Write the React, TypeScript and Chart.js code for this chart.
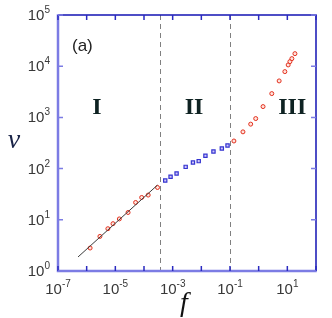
import React, { useEffect, useRef } from 'react';
import { Chart, registerables } from 'chart.js';

Chart.register(...registerables);

// Region I (red circles)
const regionIF = [1.32e-6, 2.9e-6, 5.5e-6, 8.3e-6, 1.38e-5, 2.78e-5, 5.1e-5, 8.3e-5, 1.4e-4, 2.96e-4];
const regionIV = [2.81, 4.74, 6.7, 8.4, 10.4, 13.9, 21.8, 27.3, 30.4, 42.8];
// Region II (blue squares)
const regionIIF = [5.5e-4, 8.45e-4, 1.37e-3, 2.84e-3, 5.1e-3, 8.1e-3, 1.39e-2, 2.65e-2, 5.19e-2, 8.2e-2];
const regionIIV = [58.6, 69.2, 80.3, 108, 131.6, 140, 178, 216, 247, 282];
// Region III (red circles)
const regionIIIF = [0.137, 0.283, 0.527, 0.789, 1.42, 2.87, 5.18, 8.2, 10.7, 12.3, 14.4, 18.4];
const regionIIIV = [346, 522, 738, 949, 1626, 2917, 5160, 7840, 10590, 12280, 14050, 17590];
// Power-law fit line in region I
const fitF = [5.0e-7, 2.96e-4];
const fitV = [1.88, 47.7];
// Region boundaries (dashed lines)
const boundaryF = [3.6e-4, 0.1];
// Region labels
const regionNames = ['I', 'II', 'III'];
const regionNameF = [2.3e-6, 5.6e-3, 14.8];
const regionNameV = [1607, 1607, 1607];
// Ticks
const xMin = 1e-7;
const xMax = 1e2;
const yMin = 1;
const yMax = 1e5;
const xTickMarkExps = [-7, -6, -5, -4, -3, -2, -1, 0, 1, 2];
const xTickLabelExps = [-7, -5, -3, -1, 1];
const yTickExps = [0, 1, 2, 3, 4, 5];
const panelLabel = '(a)';
const xTitle = 'f';
const yTitle = 'v';

const toPts = (xs: number[], ys: number[]) => xs.map((x, i) => ({ x, y: ys[i] }));

const TICK_FONT = '15px "Liberation Sans", Arial, sans-serif';
const SUP_FONT = '10px "Liberation Sans", Arial, sans-serif';

function drawPow(ctx: CanvasRenderingContext2D, exp: number, x: number, y: number, align: 'right' | 'center', supDy: number) {
  ctx.font = TICK_FONT;
  const wb = ctx.measureText('10').width;
  ctx.font = SUP_FONT;
  const es = String(exp);
  const we = ctx.measureText(es).width;
  const total = wb + we;
  const start = align === 'right' ? x - total : x - total / 2;
  ctx.textAlign = 'left';
  ctx.textBaseline = 'alphabetic';
  ctx.font = TICK_FONT;
  ctx.fillText('10', start, y);
  ctx.font = SUP_FONT;
  ctx.fillText(es, start + wb, y + supDy);
}

const overlay = {
  id: 'overlay',
  beforeDatasetsDraw(chart: any) {
    const { ctx, chartArea: a, scales } = chart;
    const x = scales.x;
    ctx.save();
    ctx.strokeStyle = '#808080';
    ctx.lineWidth = 1;
    ctx.setLineDash([5, 4]);
    boundaryF.forEach((f) => {
      const px = Math.round(x.getPixelForValue(f)) + 0.5;
      ctx.beginPath();
      ctx.moveTo(px, a.top);
      ctx.lineTo(px, a.bottom);
      ctx.stroke();
    });
    ctx.restore();
  },
  afterDraw(chart: any) {
    const { ctx, chartArea: a, scales } = chart;
    const x = scales.x;
    const y = scales.y;
    ctx.save();
    ctx.lineCap = 'butt';
    ctx.strokeStyle = '#1414b4';
    ctx.lineWidth = 1.5;
    ctx.beginPath();
    ctx.moveTo(a.left, a.top);
    ctx.lineTo(a.right, a.top);
    ctx.lineTo(a.right, a.bottom);
    ctx.stroke();
    ctx.strokeStyle = '#7c7ce4';
    ctx.lineWidth = 2.5;
    ctx.beginPath();
    ctx.moveTo(a.left, a.top - 0.75);
    ctx.lineTo(a.left, a.bottom);
    ctx.lineTo(a.right + 0.75, a.bottom);
    ctx.stroke();
    const tl = 5;
    ctx.lineWidth = 1.5;
    xTickMarkExps.forEach((e) => {
      const px = x.getPixelForValue(Math.pow(10, e));
      ctx.strokeStyle = '#2a2ac0';
      ctx.beginPath();
      ctx.moveTo(px, a.bottom);
      ctx.lineTo(px, a.bottom - tl);
      ctx.moveTo(px, a.top);
      ctx.lineTo(px, a.top + tl);
      ctx.stroke();
    });
    yTickExps.forEach((e) => {
      const py = y.getPixelForValue(Math.pow(10, e));
      ctx.strokeStyle = '#7c7ce4';
      ctx.beginPath();
      ctx.moveTo(a.left, py);
      ctx.lineTo(a.left + tl, py);
      ctx.moveTo(a.right, py);
      ctx.lineTo(a.right - tl, py);
      ctx.stroke();
    });
    ctx.fillStyle = '#383838';
    yTickExps.forEach((e) => {
      const py = y.getPixelForValue(Math.pow(10, e));
      drawPow(ctx, e, a.left - 8, py + 5, 'right', -7);
    });
    xTickLabelExps.forEach((e) => {
      const px = x.getPixelForValue(Math.pow(10, e));
      drawPow(ctx, e, px, a.bottom + 23, 'center', -7);
    });
    ctx.fillStyle = '#1a2448';
    ctx.font = 'italic 28px "Liberation Serif", "Times New Roman", serif';
    ctx.textAlign = 'center';
    ctx.textBaseline = 'alphabetic';
    ctx.fillText(yTitle, 14, y.getPixelForValue(Math.pow(10, 2.55)) + 8);
    ctx.fillStyle = '#111111';
    ctx.fillText(xTitle, (a.left + a.right) / 2 - 3, a.bottom + 40);
    ctx.fillStyle = '#222222';
    ctx.font = '17px "Liberation Sans", Arial, sans-serif';
    ctx.textAlign = 'left';
    ctx.fillText(panelLabel, a.left + 14, a.top + 36);
    ctx.fillStyle = '#0e2222';
    ctx.font = 'bold 24px "Liberation Serif", "Times New Roman", serif';
    ctx.textAlign = 'center';
    ctx.textBaseline = 'middle';
    regionNames.forEach((n, i) => {
      ctx.fillText(n, x.getPixelForValue(regionNameF[i]), y.getPixelForValue(regionNameV[i]) + 1);
    });
    ctx.restore();
  },
};

export default function App() {
  const ref = useRef<HTMLCanvasElement | null>(null);
  useEffect(() => {
    if (!ref.current) return;
    const chart = new Chart(ref.current, {
      type: 'scatter',
      data: {
        datasets: [
          {
            label: 'fit',
            data: toPts(fitF, fitV),
            showLine: true,
            borderColor: '#3a3a3a',
            borderWidth: 1,
            pointRadius: 0,
          },
          {
            label: 'I',
            data: toPts(regionIF, regionIV),
            pointStyle: 'circle',
            pointRadius: 2,
            borderWidth: 1,
            borderColor: '#e2301e',
            backgroundColor: 'rgba(255,215,205,0.7)',
          },
          {
            label: 'II',
            data: toPts(regionIIF, regionIIV),
            pointStyle: 'rect',
            pointRadius: 2.3,
            borderWidth: 1.2,
            borderColor: '#3434d0',
            backgroundColor: 'rgba(190,175,250,0.7)',
          },
          {
            label: 'III',
            data: toPts(regionIIIF, regionIIIV),
            pointStyle: 'circle',
            pointRadius: 2,
            borderWidth: 1,
            borderColor: '#e2301e',
            backgroundColor: 'rgba(255,215,205,0.7)',
          },
        ],
      },
      options: {
        animation: false,
        responsive: false,
        devicePixelRatio: 1,
        layout: { padding: { left: 58, top: 15, right: 16, bottom: 47 } },
        plugins: { legend: { display: false }, tooltip: { enabled: false } },
        scales: {
          x: {
            type: 'logarithmic',
            min: xMin,
            max: xMax,
            grid: { display: false, drawTicks: false },
            border: { display: false },
            ticks: { display: false },
          },
          y: {
            type: 'logarithmic',
            min: yMin,
            max: yMax,
            grid: { display: false, drawTicks: false },
            border: { display: false },
            ticks: { display: false },
          },
        },
      },
      plugins: [overlay],
    });
    return () => chart.destroy();
  }, []);
  return (
    <div style={{ position: 'fixed', left: 0, top: 0, width: 332, height: 318, background: '#ffffff' }}>
      <canvas ref={ref} width={332} height={318} style={{ width: 332, height: 318 }} />
    </div>
  );
}
